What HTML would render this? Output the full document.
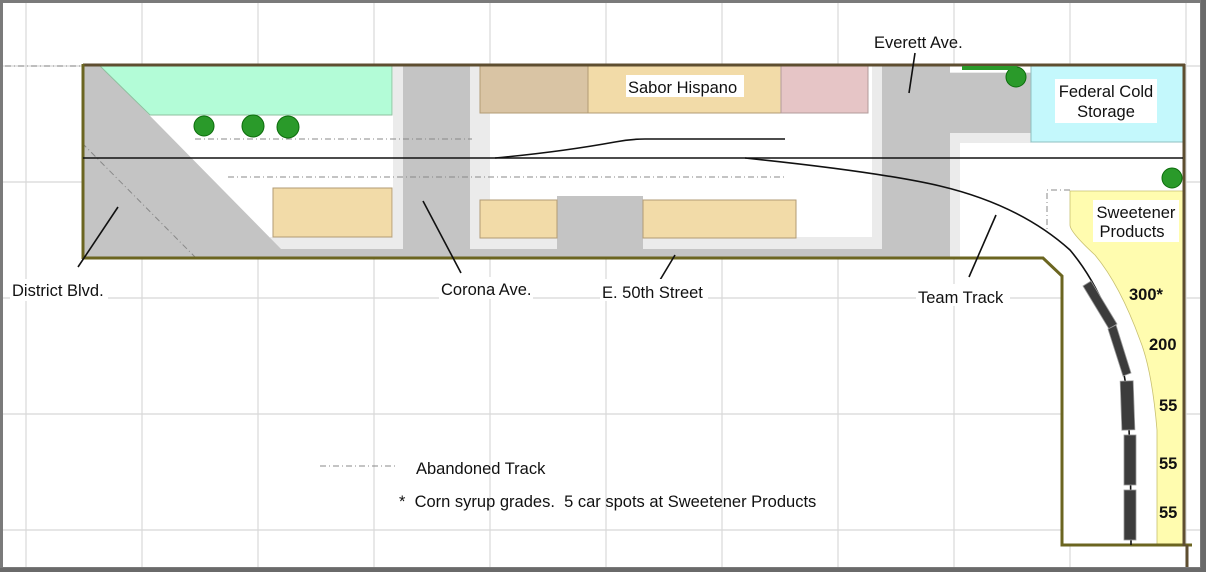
<!DOCTYPE html>
<html><head><meta charset="utf-8"><style>
html,body{margin:0;padding:0;background:#fff}
svg{display:block}
text{font-family:"Liberation Sans",Arial,sans-serif;font-size:16.5px;fill:#111;white-space:pre}
.b{font-weight:bold}
</style></head><body>
<svg width="1206" height="572" viewBox="0 0 1206 572" xmlns="http://www.w3.org/2000/svg">
<rect width="1206" height="572" fill="#fff"/>
<g stroke="#d8d8d8" stroke-width="1.2">
<line x1="26" y1="0" x2="26" y2="572"/><line x1="142" y1="0" x2="142" y2="572"/><line x1="258" y1="0" x2="258" y2="572"/><line x1="374" y1="0" x2="374" y2="572"/><line x1="490" y1="0" x2="490" y2="572"/><line x1="606" y1="0" x2="606" y2="572"/><line x1="722" y1="0" x2="722" y2="572"/><line x1="838" y1="0" x2="838" y2="572"/><line x1="954" y1="0" x2="954" y2="572"/><line x1="1070" y1="0" x2="1070" y2="572"/><line x1="1186" y1="0" x2="1186" y2="572"/>
<line x1="0" y1="66" x2="1206" y2="66"/><line x1="0" y1="182" x2="1206" y2="182"/><line x1="0" y1="298" x2="1206" y2="298"/><line x1="0" y1="414" x2="1206" y2="414"/><line x1="0" y1="530" x2="1206" y2="530"/>
</g>
<rect x="83" y="65" width="1101" height="193" fill="#fff"/>
<rect x="1062" y="258" width="122" height="287" fill="#fff"/>
<g fill="#ebebeb">
<rect x="393" y="65" width="97" height="193"/>
<rect x="872" y="65" width="88" height="193"/>
<rect x="270" y="237" width="612" height="21"/>
<rect x="950" y="65" width="81" height="78"/>
</g>
<g fill="#c4c4c4">
<polygon points="83,65 100,65 282,250 282,258 83,258"/>
<rect x="280" y="249" width="602" height="9"/>
<rect x="403" y="65" width="67" height="193"/>
<rect x="882" y="65" width="68" height="193"/>
<rect x="950" y="73" width="81" height="60"/>
<rect x="557" y="196" width="86" height="54"/>
</g>
<rect x="950" y="65" width="81" height="7" fill="#fff"/>
<polygon points="100,66 392,66 392,115 150,115" fill="#b3fcd7" stroke="#8fbf9f"/>
<rect x="480" y="66" width="108" height="47" fill="#d9c4a4" stroke="#b29b75"/>
<rect x="588" y="66" width="193" height="47" fill="#f2dba8" stroke="#b29b75"/>
<rect x="781" y="66" width="87" height="47" fill="#e6c5c6" stroke="#b29b9b"/>
<rect x="273" y="188" width="119" height="49" fill="#f2dba8" stroke="#b29b75"/>
<rect x="480" y="200" width="77" height="38" fill="#f2dba8" stroke="#b29b75"/>
<rect x="643" y="200" width="153" height="38" fill="#f2dba8" stroke="#b29b75"/>
<rect x="1031" y="66" width="153" height="76" fill="#c4f8fc" stroke="#8fbfc0"/>
<path d="M1070,191 L1184,191 L1184,545 L1157,545 L1157,430 Q1152,370 1140,340 Q1120,285 1095,255 Q1070,232 1070,225 Z" fill="#fffcaf" stroke="#c8c070" stroke-width="0.8"/>
<g stroke="#888" stroke-width="1" stroke-dasharray="6,3,1,3" fill="none">
<line x1="5" y1="66" x2="83" y2="66"/>
<line x1="195" y1="139" x2="472" y2="139"/>
<line x1="228" y1="177" x2="785" y2="177"/>
<line x1="82" y1="143" x2="196" y2="258"/>
<polyline points="1070,190 1047,190 1047,230"/>
<line x1="320" y1="466" x2="398" y2="466"/>
</g>
<g fill="none" stroke-width="3">
<line x1="83" y1="65" x2="1185" y2="65" stroke="#5e4e30"/>
<line x1="83" y1="64" x2="83" y2="259" stroke="#6b6520"/>
<polyline points="82,258 1043,258 1062,276 1062,545 1192,545" stroke="#6b6520"/>
<line x1="1184" y1="64" x2="1184" y2="546" stroke="#5e4e30"/>
<line x1="1187" y1="545" x2="1187" y2="570" stroke="#5e4e30"/>
</g>
<g fill="none" stroke="#111" stroke-width="1.6">
<line x1="83" y1="158" x2="1183" y2="158"/>
<path d="M495,158 Q560,152 615,142 Q630,139 645,139 L785,139"/>
<path d="M745,158 Q880,172 940,186 Q1020,205 1070,250 Q1112,300 1125,380 Q1131,420 1131,545"/>
</g>
<g fill="#3c3c3c" stroke="#999" stroke-width="0.8">
<polygon points="1083,286 1091,281 1117,324 1109,329"/>
<polygon points="1108,329 1116,325 1131,373 1123,376"/>
<rect x="1121" y="381" width="13" height="49" transform="rotate(-2 1127 405)"/>
<rect x="1124" y="435" width="12" height="50"/>
<rect x="1124" y="490" width="12" height="50"/>
</g>
<g fill="#2a9a2a" stroke="#0c6c0c" stroke-width="1">
<circle cx="204" cy="126" r="10"/><circle cx="253" cy="126" r="11"/><circle cx="288" cy="127" r="11"/>
<circle cx="1016" cy="77" r="10"/><circle cx="1172" cy="178" r="10"/>
<rect x="962" y="66" width="55" height="4" stroke="none"/>
</g>
<g stroke="#111" stroke-width="1.6">
<line x1="78" y1="267" x2="118" y2="207"/>
<line x1="423" y1="201" x2="461" y2="273"/>
<line x1="675" y1="255" x2="660" y2="280"/>
<line x1="996" y1="215" x2="969" y2="277"/>
<line x1="915" y1="53" x2="909" y2="93"/>
</g>
<g fill="#fff">
<rect x="10" y="279" width="98" height="22"/>
<rect x="439" y="277" width="94" height="22"/>
<rect x="600" y="279" width="108" height="22"/>
<rect x="916" y="284" width="94" height="22"/>
<rect x="626" y="75" width="118" height="22"/>
<rect x="1055" y="79" width="102" height="44"/>
<rect x="1093" y="200" width="86" height="42"/>
</g>
<text x="12" y="296">District Blvd.</text>
<text x="441" y="295">Corona Ave.</text>
<text x="602" y="298">E. 50th Street</text>
<text x="918" y="303">Team Track</text>
<text x="874" y="48">Everett Ave.</text>
<text x="628" y="93">Sabor Hispano</text>
<text x="1106" y="97" text-anchor="middle">Federal Cold</text>
<text x="1106" y="117" text-anchor="middle">Storage</text>
<text x="1136" y="218" text-anchor="middle">Sweetener</text>
<text x="1132" y="237" text-anchor="middle">Products</text>
<text class="b" x="1129" y="300">300*</text>
<text class="b" x="1149" y="350">200</text>
<text class="b" x="1159" y="411">55</text>
<text class="b" x="1159" y="469">55</text>
<text class="b" x="1159" y="518">55</text>
<text x="416" y="474">Abandoned Track</text>
<text x="399" y="507">*  Corn syrup grades.  5 car spots at Sweetener Products</text>
<rect x="1.5" y="1.5" width="1200" height="567" fill="none" stroke="#7a7a7a" stroke-width="3"/>
<rect x="1201" y="0" width="5" height="572" fill="#6a6a6a"/>
<rect x="0" y="568" width="1206" height="4" fill="#6a6a6a"/>
</svg>
</body></html>
